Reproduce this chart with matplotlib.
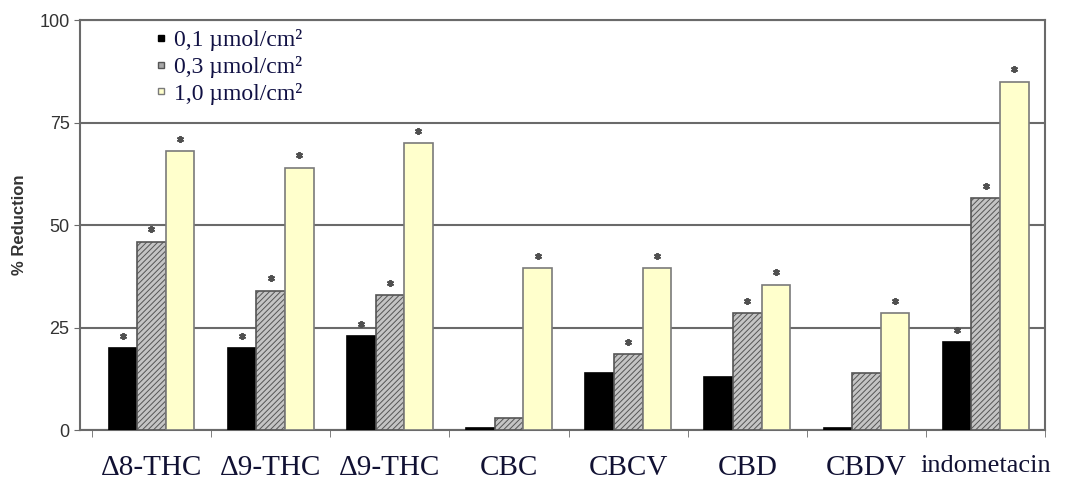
import numpy as np
import matplotlib
matplotlib.use("Agg")
import matplotlib.pyplot as plt
from matplotlib.lines import Line2D

# % reduction per compound at three doses
compounds = ["Δ8-THC", "Δ9-THC", "Δ9-THC", "CBC", "CBCV", "CBD", "CBDV", "indometacin"]
dose_labels = ["0,1 µmol/cm²", "0,3 µmol/cm²", "1,0 µmol/cm²"]
low_dose = [20, 20, 23, 0.5, 14, 13, 0.5, 21.5]
mid_dose = [46, 34, 33, 3, 18.5, 28.5, 14, 56.5]
high_dose = [68, 64, 70, 39.5, 39.5, 35.5, 28.5, 85]
# significance flags (1 = asterisk above the bar)
low_sig = [1, 1, 1, 0, 0, 0, 0, 1]
mid_sig = [1, 1, 1, 0, 1, 1, 0, 1]
high_sig = [1, 1, 1, 1, 1, 1, 1, 1]

fig = plt.figure(figsize=(10.75, 4.79), dpi=100)
ax = fig.add_axes([0.0744, 0.102, 0.898, 0.856])

x = np.arange(len(compounds))
w = 0.24
plt.rcParams["hatch.linewidth"] = 0.7

series = [
    (low_dose, low_sig, dict(color="black", edgecolor="black")),
    (mid_dose, mid_sig, dict(color="#c4c4c4", edgecolor="#555555", hatch="//////")),
    (high_dose, high_sig, dict(color="#ffffcc", edgecolor="#7a7a7a")),
]
for i, (vals, sig, style) in enumerate(series):
    pos = x + (i - 1) * w
    ax.bar(pos, vals, w, linewidth=1.2, zorder=3, **style)
    vals = np.array(vals)
    sig = np.array(sig, dtype=bool)
    ax.plot(pos[sig], vals[sig] + 3.0, linestyle="none", marker=(6, 2, 0),
            markersize=5, markeredgewidth=1.4, color="#505050", zorder=4)

ax.set_ylim(0, 100)
ax.set_xlim(-0.6, 7.5)
ax.set_yticks([0, 25, 50, 75, 100])
ax.yaxis.grid(True, color="#6a6a6a", linewidth=1.5)
ax.set_axisbelow(True)
for s in ax.spines.values():
    s.set_color("#6a6a6a")
    s.set_linewidth(1.5)

ax.tick_params(axis="y", length=4, color="#6a6a6a", labelsize=13, labelcolor="#333333")
for lbl in ax.get_yticklabels():
    lbl.set_family("Liberation Sans")

ax.set_xticks(x)
ax.set_xticklabels(compounds, family="Liberation Serif", fontsize=21, color="#111133")
ax.get_xticklabels()[-1].set_fontsize(19)
ax.tick_params(axis="x", length=0, pad=18)
ax.set_xticks(np.arange(len(compounds) + 1) - 0.5, minor=True)
ax.tick_params(axis="x", which="minor", length=5, color="#6a6a6a")

ax.set_ylabel("% Reduction", family="Liberation Sans", fontweight="bold",
              fontsize=12, color="#333333", labelpad=9)

# small square keys
handles = [
    Line2D([], [], linestyle="none", marker="s", markersize=5,
           markerfacecolor="black", markeredgecolor="black"),
    Line2D([], [], linestyle="none", marker="s", markersize=5,
           markerfacecolor="#a8a8a8", markeredgecolor="#555555"),
    Line2D([], [], linestyle="none", marker="s", markersize=5,
           markerfacecolor="#ffffcc", markeredgecolor="#7a7a7a"),
]
leg = ax.legend(handles, dose_labels, loc="upper left", bbox_to_anchor=(0.062, 1.015),
                frameon=False, handlelength=0.5, handletextpad=0.3,
                labelspacing=0.2, borderaxespad=0.25,
                prop={"family": "Liberation Serif", "size": 17})
for t in leg.get_texts():
    t.set_color("#111144")

fig.savefig("out.png", dpi=100)
